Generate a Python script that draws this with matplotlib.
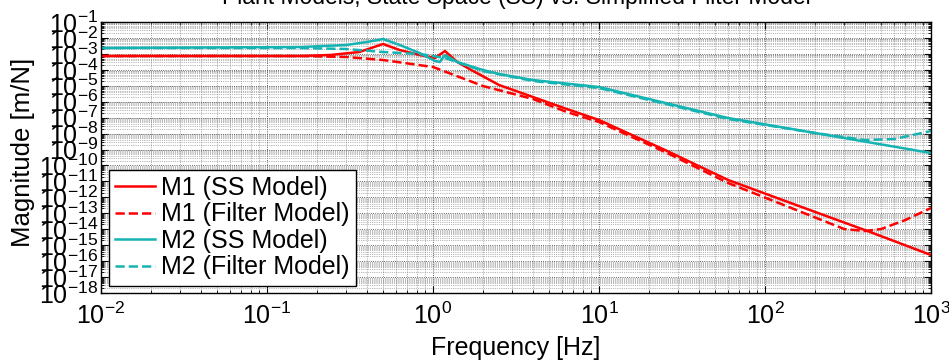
import numpy as np
import matplotlib
matplotlib.use('Agg')
import matplotlib.pyplot as plt
from matplotlib.ticker import LogLocator, NullFormatter

plt.rcParams['font.family'] = ['Liberation Sans', 'DejaVu Sans']
plt.rcParams['mathtext.fontset'] = 'custom'
plt.rcParams['mathtext.rm'] = 'Liberation Sans'

# frequency points [Hz] and log10 magnitude [m/N]
f_m1_ss = [0.01, 0.16, 0.24, 0.36, 0.5, 0.63, 0.83, 1.03, 1.18, 1.4, 1.7, 2.5, 4.0, 6.4, 10, 25, 60, 160, 430, 1000]
m1_ss = [-3.133, -3.133, -3.070, -2.882, -2.380, -2.757, -3.070, -3.258, -2.819, -3.509,
         -4.011, -4.952, -5.705, -6.458, -7.148, -9.030, -10.912, -12.543, -14.174, -15.617]

f_m1_flt = [0.01, 0.16, 0.3, 0.5, 1.0, 2.0, 4.0, 6.4, 10, 25, 60, 160, 300, 400, 500, 700, 1000]
m1_flt = [-3.133, -3.133, -3.196, -3.384, -3.823, -5.015, -5.831, -6.646, -7.274, -9.156,
          -11.100, -12.857, -13.987, -14.112, -13.987, -13.422, -12.669]

f_m2_ss = [0.01, 0.16, 0.3, 0.4, 0.5, 0.63, 0.83, 1.03, 1.1, 1.18, 1.4, 2.0, 2.5, 4.0, 10, 60, 1000]
m2_ss = [-2.631, -2.568, -2.443, -2.255, -2.067, -2.443, -2.945, -3.447, -3.509, -3.070,
         -3.509, -4.011, -4.262, -4.639, -5.078, -7.023, -9.218]

f_m2_flt = [0.01, 0.16, 0.3, 0.5, 0.83, 1.0, 1.18, 2.0, 4.0, 10, 60, 200, 400, 600, 1000]
m2_flt = [-2.631, -2.631, -2.694, -2.882, -3.008, -3.133, -3.258, -4.074, -4.701, -5.141,
          -7.085, -7.964, -8.403, -8.340, -7.838]

red = '#ff0000'
teal = '#16b3b3'

fig = plt.figure(figsize=(9.49, 3.62), dpi=100)
ax = fig.add_axes([101/949, 1-293/362, 830/949, 271/362])

ax.loglog(f_m1_ss, 10**np.array(m1_ss), '-', color=red, lw=1.8, label='M1 (SS Model)')
ax.loglog(f_m1_flt, 10**np.array(m1_flt), '--', color=red, lw=1.8, label='M1 (Filter Model)')
ax.loglog(f_m2_ss, 10**np.array(m2_ss), '-', color=teal, lw=1.8, label='M2 (SS Model)')
ax.loglog(f_m2_flt, 10**np.array(m2_flt), '--', color=teal, lw=1.8, label='M2 (Filter Model)')

ax.set_xlim(1e-2, 1e3)
ax.set_ylim(1e-18, 1e-1)

ax.xaxis.set_major_locator(LogLocator(base=10, numticks=20))
ax.yaxis.set_major_locator(LogLocator(base=10, numticks=30))
for a in (ax.xaxis, ax.yaxis):
    a.set_minor_locator(LogLocator(base=10, subs=np.arange(2, 10), numticks=30))
    a.set_minor_formatter(NullFormatter())

ax.grid(True, which='major', ls=':', color='0.2', lw=0.6)
ax.grid(True, which='minor', ls=':', color='0.45', lw=0.5)
ax.tick_params(which='both', direction='in', top=True, right=True, labelsize=18)
ax.tick_params(which='major', length=5)
ax.tick_params(which='minor', length=2.5)
ax.tick_params(axis='x', pad=7)
ax.tick_params(axis='y', pad=2)
for s in ax.spines.values():
    s.set_linewidth(1.0)

ax.set_title('Plant Models, State Space (SS) vs. Simplified Filter Model', fontsize=16.5, pad=13)
ax.set_xlabel('Frequency [Hz]', fontsize=18)
ax.set_ylabel('Magnitude [m/N]', fontsize=18.5)
ax.xaxis.set_label_coords(0.5, -0.16)
ax.yaxis.set_label_coords(-0.08, 0.52)

leg = ax.legend(loc='lower left', fontsize=18, handlelength=1.6, handletextpad=0.25,
                labelspacing=0.1, borderaxespad=0.3, fancybox=False, framealpha=1,
                borderpad=0.25)
leg.get_frame().set_edgecolor('k')
leg.get_frame().set_linewidth(1.0)

fig.savefig('out.png', dpi=100)
